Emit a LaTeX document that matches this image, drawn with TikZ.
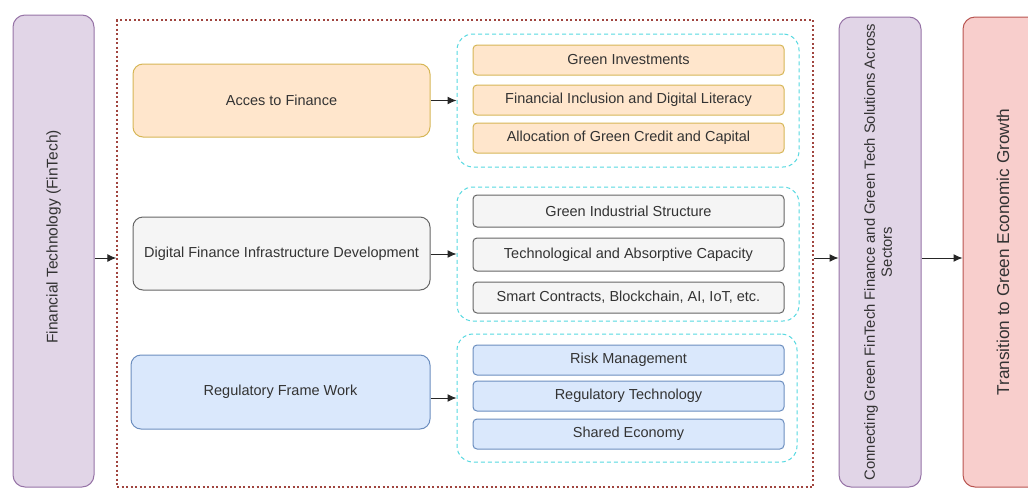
\documentclass[tikz,border=0pt]{standalone}
\usepackage{fontspec}
\setmainfont{Liberation Sans}
\usetikzlibrary{arrows.meta}
\definecolor{txt}{HTML}{333333}
\definecolor{purF}{HTML}{E1D5E7}\definecolor{purD}{HTML}{9673A6}
\definecolor{redF}{HTML}{F8CECC}\definecolor{redD}{HTML}{B85450}
\definecolor{orF}{HTML}{FFE6CC}\definecolor{orD}{HTML}{D6B656}
\definecolor{grF}{HTML}{F5F5F5}\definecolor{grD}{HTML}{666666}
\definecolor{blF}{HTML}{DAE8FC}\definecolor{blD}{HTML}{6C8EBF}
\definecolor{cyanD}{HTML}{55D8E0}
\definecolor{frameD}{HTML}{A0453F}
\begin{document}
\begin{tikzpicture}[x=1pt,y=-1pt,
  every node/.style={text=txt, inner sep=0pt, align=center},
  bigfont/.style={font=\fontsize{14.5}{17}\selectfont},
  tallbox/.style={draw, line width=1pt, rounded corners=12pt, bigfont},
  mainbox/.style={draw, line width=1pt, rounded corners=10pt, minimum width=297pt, minimum height=73pt, bigfont},
  itembox/.style={draw, line width=1pt, rounded corners=4pt, minimum width=311pt, minimum height=30pt, bigfont},
  groupbox/.style={draw=cyanD, line width=1pt, dash pattern=on 4pt off 3pt, rounded corners=16pt, minimum width=342pt},
  arr/.style={-{Latex[length=9pt,width=8pt]}, line width=1pt, draw=black!85}
]
\useasboundingbox (0,0) rectangle (1028,488);

% tall side boxes
\node[tallbox, fill=purF, draw=purD, minimum width=81pt, minimum height=472pt, font=\fontsize{15.5}{18}\selectfont] (fin) at (53.5,251)
  {\rotatebox{90}{\hspace*{28pt}Financial Technology (FinTech)}};
\node[draw=frameD, line width=1.4pt, dash pattern=on 2pt off 2.5pt, minimum width=696pt, minimum height=467pt] (frame) at (465,253.5) {};
\node[tallbox, fill=purF, draw=purD, minimum width=82pt, minimum height=470pt, font=\fontsize{14.8}{17}\selectfont] (conn) at (880,252)
  {\rotatebox{90}{\begin{tabular}{@{}c@{}}Connecting Green FinTech Finance and Green Tech Solutions Across\\Sectors\end{tabular}}};
\node[tallbox, fill=redF, draw=redD, minimum width=80pt, minimum height=470pt, font=\fontsize{17.2}{20}\selectfont] (trans) at (1003,252)
  {\rotatebox{90}{Transition to Green Economic Growth}};

% main boxes
\node[mainbox, fill=orF, draw=orD] (acc) at (281.5,100.5) {Acces to Finance};
\node[mainbox, fill=grF, draw=grD] (dig) at (281.5,253.5) {Digital Finance Infrastructure Development};
\node[mainbox, fill=blF, draw=blD, minimum width=299pt, minimum height=74pt] (reg) at (280.5,392) {Regulatory Frame Work};

% groups
\node[groupbox, minimum height=133pt] (g1) at (628,100.5) {};
\node[groupbox, minimum height=134pt] (g2) at (628,254) {};
\node[groupbox, minimum height=128pt, minimum width=340pt] (g3) at (627,398) {};

% items
\node[itembox, fill=orF, draw=orD] (i11) at (628.5,60) {Green Investments};
\node[itembox, fill=orF, draw=orD] (i12) at (628.5,100) {Financial Inclusion and Digital Literacy};
\node[itembox, fill=orF, draw=orD] (i13) at (628.5,138) {Allocation of Green Credit and Capital};

\node[itembox, fill=grF, draw=grD, minimum height=32pt] (i21) at (628.5,211) {Green Industrial Structure};
\node[itembox, fill=grF, draw=grD, minimum height=33pt] (i22) at (628.5,254.5) {Technological and Absorptive Capacity};
\node[itembox, fill=grF, draw=grD, minimum height=31pt] (i23) at (628.5,297.5) {Smart Contracts, Blockchain, AI, IoT, etc.};

\node[itembox, fill=blF, draw=blD] (i31) at (628.5,360) {Risk Management};
\node[itembox, fill=blF, draw=blD] (i32) at (628.5,396) {Regulatory Technology};
\node[itembox, fill=blF, draw=blD] (i33) at (628.5,434) {Shared Economy};

% connectors
\coordinate (mid) at (0,258);
\draw[arr] (fin.east |- mid) -- (frame.west |- mid);
\draw[arr] (frame.east |- mid) -- (conn.west |- mid);
\draw[arr] (conn.east |- mid) -- (trans.west |- mid);
\draw[arr] (acc.east |- g1.west) -- (g1.west);
\draw[arr] (dig.east |- g2.west) -- (g2.west);
\draw[arr] (reg.east |- g3.west) -- (g3.west);
\end{tikzpicture}
\end{document}
